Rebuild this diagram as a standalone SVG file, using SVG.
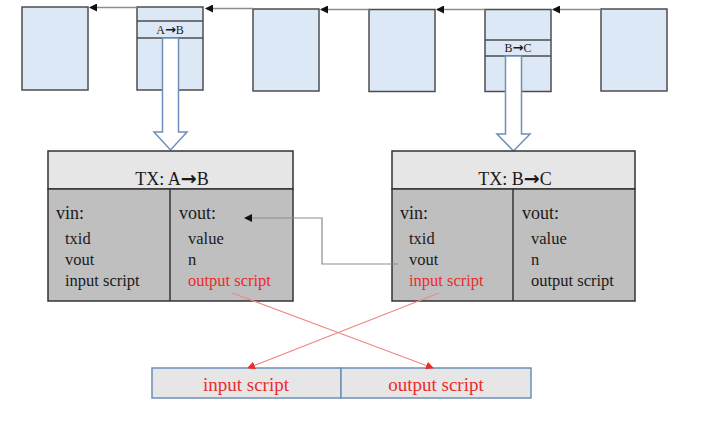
<svg xmlns="http://www.w3.org/2000/svg" width="706" height="432" viewBox="0 0 706 432">
<style>
.blk{fill:#dce8f5;stroke:#4d4d4d;stroke-width:1.5}
.hollow{fill:#ffffff;stroke:#6f8fb8;stroke-width:1.5}
.hdr{fill:#e6e6e6;stroke:#333;stroke-width:1.5}
.body{fill:#bfbfbf;stroke:#333;stroke-width:1.5}
.t{font-family:"Liberation Serif","Times New Roman",serif;fill:#1a1a1a}
.ar{font-family:"DejaVu Sans",sans-serif;font-weight:bold}
.red{fill:#ee2a2a}
.chain{stroke:#8c8c8c;stroke-width:1.5;fill:none}
.link{stroke:#8c8c8c;stroke-width:1.2;fill:none}
.rl{stroke:#ef8a84;stroke-width:1.2;fill:none}
.sbox{fill:#e6e6e6;stroke:#6f8fb8;stroke-width:1.5}
</style>
<defs>
<marker id="ab" markerWidth="8" markerHeight="8" refX="7" refY="4" orient="auto" markerUnits="userSpaceOnUse">
<path d="M0,0 L8,4 L0,8 Z" fill="#111"/>
</marker>
<marker id="ar" markerWidth="8" markerHeight="8" refX="7" refY="4" orient="auto" markerUnits="userSpaceOnUse">
<path d="M0,0 L8,4 L0,8 Z" fill="#ee2a2a"/>
</marker>
</defs>

<g id="block1"><rect class="blk" x="22" y="7" width="66" height="83"/></g>
<g id="block2">
<rect class="blk" x="137" y="7" width="66" height="83"/>
<line x1="137" y1="21" x2="203" y2="21" stroke="#4d4d4d" stroke-width="1.5"/>
<line x1="137" y1="38" x2="203" y2="38" stroke="#4d4d4d" stroke-width="1.5"/>
<text class="t" x="170" y="34" font-size="12" text-anchor="middle">A<tspan class="ar" font-size="13">→</tspan>B</text>
</g>
<g id="block3"><rect class="blk" x="253" y="9" width="66" height="82"/></g>
<g id="block4"><rect class="blk" x="369" y="9.5" width="66" height="82"/></g>
<g id="block5">
<rect class="blk" x="485" y="9.5" width="66" height="82"/>
<line x1="485" y1="40" x2="551" y2="40" stroke="#4d4d4d" stroke-width="1.5"/>
<line x1="485" y1="56" x2="551" y2="56" stroke="#4d4d4d" stroke-width="1.5"/>
<text class="t" x="518" y="52" font-size="12" text-anchor="middle">B<tspan class="ar" font-size="13">→</tspan>C</text>
</g>
<g id="block6"><rect class="blk" x="601" y="9" width="66" height="82"/></g>

<g id="arrowAB"><path class="hollow" d="M162.5,38 L178.5,38 L178.5,132 L187,132 L170.5,150 L154,132 L162.5,132 Z"/></g>
<g id="arrowBC"><path class="hollow" d="M505.5,56 L521.5,56 L521.5,134 L530,134 L513.5,151 L497,134 L505.5,134 Z"/></g>

<g id="txAB">
<rect class="hdr" x="48" y="151" width="245" height="38"/>
<rect class="body" x="48" y="189" width="245" height="112"/>
<line x1="170" y1="189" x2="170" y2="301" stroke="#333" stroke-width="1.5"/>
<text class="t" x="172" y="185" font-size="18" text-anchor="middle">TX: A<tspan class="ar" font-size="19">→</tspan>B</text>
<text class="t" x="56" y="219" font-size="18">vin:</text>
<text class="t" x="65" y="244" font-size="16.5">txid</text>
<text class="t" x="65" y="265" font-size="16.5">vout</text>
<text class="t" x="65" y="286" font-size="16.5">input script</text>
<text class="t" x="179" y="219" font-size="18">vout:</text>
<text class="t" x="188" y="244" font-size="16.5">value</text>
<text class="t" x="188" y="265" font-size="16.5">n</text>
<text class="t red" x="188" y="286" font-size="16.5">output script</text>
</g>

<g id="txBC">
<rect class="hdr" x="392" y="151" width="243" height="38"/>
<rect class="body" x="392" y="189" width="243" height="112"/>
<line x1="513" y1="189" x2="513" y2="301" stroke="#333" stroke-width="1.5"/>
<text class="t" x="515" y="185" font-size="18" text-anchor="middle">TX: B<tspan class="ar" font-size="19">→</tspan>C</text>
<text class="t" x="400" y="219" font-size="18">vin:</text>
<text class="t" x="409" y="244" font-size="16.5">txid</text>
<text class="t" x="409" y="265" font-size="16.5">vout</text>
<text class="t red" x="409" y="286" font-size="16.5">input script</text>
<text class="t" x="522" y="219" font-size="18">vout:</text>
<text class="t" x="531" y="244" font-size="16.5">value</text>
<text class="t" x="531" y="265" font-size="16.5">n</text>
<text class="t" x="531" y="286" font-size="16.5">output script</text>
</g>

<g id="scripts">
<rect class="sbox" x="152" y="368" width="189" height="30"/>
<rect class="sbox" x="341" y="368" width="190" height="30"/>
<text class="t red" x="246" y="391" font-size="19" text-anchor="middle">input script</text>
<text class="t red" x="436" y="391" font-size="19" text-anchor="middle">output script</text>
</g>

<g id="connectors">
<line class="chain" x1="137" y1="7.5" x2="90" y2="7.5" marker-end="url(#ab)"/>
<line class="chain" x1="253" y1="8.5" x2="206" y2="8.5" marker-end="url(#ab)"/>
<line class="chain" x1="369" y1="9.5" x2="321" y2="9.5" marker-end="url(#ab)"/>
<line class="chain" x1="485" y1="9.5" x2="437" y2="9.5" marker-end="url(#ab)"/>
<line class="chain" x1="601" y1="9.5" x2="553" y2="9.5" marker-end="url(#ab)"/>
<polyline class="link" points="398,264 322,264 322,218 245,218" marker-end="url(#ab)"/>
<line class="rl" x1="232" y1="293" x2="433" y2="368" marker-end="url(#ar)"/>
<line class="rl" x1="439" y1="293" x2="248" y2="368" marker-end="url(#ar)"/>
</g>
</svg>
